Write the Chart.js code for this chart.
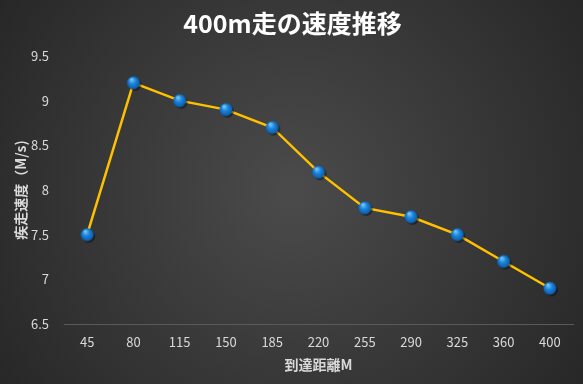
<!DOCTYPE html>
<html>
<head>
<meta charset="utf-8">
<script src="https://cdn.jsdelivr.net/npm/chart.js@4.4.1/dist/chart.umd.min.js"></script>
<style>
  html, body { margin: 0; padding: 0; background: #2b2b2b; }
  canvas { display: block; }
</style>
</head>
<body>
<canvas id="speed-chart" width="583" height="384"></canvas>
<script>
const distances = ['45', '80', '115', '150', '185', '220', '255', '290', '325', '360', '400'];
const speeds = [7.5, 9.2, 9.0, 8.9, 8.7, 8.2, 7.8, 7.7, 7.5, 7.2, 6.9];

const fontFamily = '"Noto Sans CJK JP", "Noto Sans", sans-serif';

// blue glossy marker with a small drop shadow
function makeMarker() {
    const c = document.createElement('canvas');
    c.width = 18;
    c.height = 18;
    const g = c.getContext('2d');
    g.fillStyle = 'rgba(0,0,0,0.45)';
    g.beginPath();
    g.arc(10.5, 10.5, 6.5, 0, Math.PI * 2);
    g.fill();
    const grad = g.createRadialGradient(7, 5.5, 0.5, 9, 9, 7);
    grad.addColorStop(0, '#7cc6f7');
    grad.addColorStop(0.45, '#1a84dc');
    grad.addColorStop(1, '#0a559f');
    g.fillStyle = grad;
    g.beginPath();
    g.arc(9, 9, 6.5, 0, Math.PI * 2);
    g.fill();
    return c;
}

// dark radial background behind the whole chart
const backgroundPlugin = {
    id: 'darkBackground',
    beforeDraw(chart) {
        const ctx = chart.ctx;
        const w = chart.width, h = chart.height;
        const grad = ctx.createRadialGradient(w / 2, h / 2, 10, w / 2, h / 2, w * 0.62);
        grad.addColorStop(0, '#4a4a4a');
        grad.addColorStop(1, '#262626');
        ctx.save();
        ctx.fillStyle = grad;
        ctx.fillRect(0, 0, w, h);
        ctx.restore();
    }
};

const ctx = document.getElementById('speed-chart').getContext('2d');

window.speedChart = new Chart(ctx, {
    type: 'line',
    data: {
        labels: distances,
        datasets: [{
            label: '疾走速度',
            data: speeds,
            borderColor: '#ffc000',
            borderWidth: 2.5,
            pointStyle: makeMarker(),
            pointRadius: 7,
            tension: 0
        }]
    },
    options: {
        responsive: false,
        animation: false,
        layout: {
            padding: { left: 12, right: 10, top: 0, bottom: 6 }
        },
        plugins: {
            legend: { display: false },
            tooltip: { enabled: false },
            title: {
                display: true,
                text: '400m走の速度推移',
                color: '#ffffff',
                font: { family: fontFamily, size: 25, weight: 'bold' },
                padding: { top: 8, bottom: 18 }
            }
        },
        scales: {
            x: {
                offset: true,
                grid: { display: false, drawTicks: false },
                border: { display: true, color: '#5a5a5a', width: 1 },
                afterFit: scale => { scale.height = 54; },
                ticks: {
                    color: '#d9d9d9',
                    font: { family: fontFamily, size: 13 },
                    padding: 10
                },
                title: {
                    display: true,
                    text: '到達距離M',
                    color: '#d9d9d9',
                    font: { family: fontFamily, size: 14, weight: 'bold' },
                    padding: { top: 0, bottom: 5 }
                }
            },
            y: {
                min: 6.5,
                max: 9.5,
                grid: { display: false, drawTicks: false },
                border: { display: false },
                afterFit: scale => { scale.width = 52; },
                ticks: {
                    stepSize: 0.5,
                    color: '#d9d9d9',
                    font: { family: fontFamily, size: 13 },
                    padding: 15,
                    callback: value => String(value)
                },
                title: {
                    display: true,
                    text: '疾走速度（M/s)',
                    color: '#d9d9d9',
                    font: { family: fontFamily, size: 14, weight: 'bold' },
                    padding: { top: 0, bottom: 2 }
                }
            }
        }
    },
    plugins: [backgroundPlugin]
});
</script>
</body>
</html>
